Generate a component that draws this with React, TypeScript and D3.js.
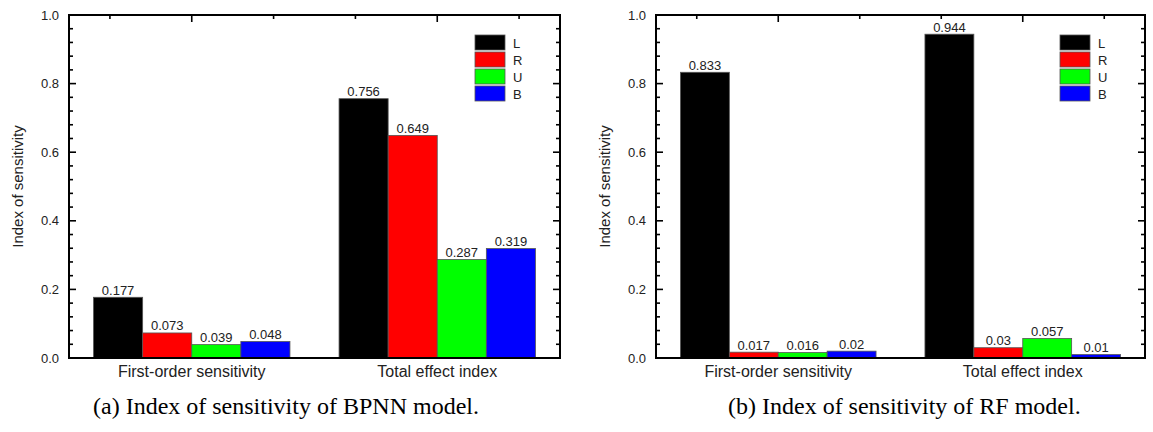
import React from "react";
import * as d3 from "d3";

const categories = ["First-order sensitivity", "Total effect index"];
const seriesNames = ["L", "R", "U", "B"];
const seriesColors = ["#000000", "#ff0000", "#00ff00", "#0000ff"];
const bpnnFirst = [0.177, 0.073, 0.039, 0.048];
const bpnnTotal = [0.756, 0.649, 0.287, 0.319];
const rfFirst = [0.833, 0.017, 0.016, 0.02];
const rfTotal = [0.944, 0.03, 0.057, 0.01];
const bpnnLabels = [["0.177", "0.073", "0.039", "0.048"], ["0.756", "0.649", "0.287", "0.319"]];
const rfLabels = [["0.833", "0.017", "0.016", "0.02"], ["0.944", "0.03", "0.057", "0.01"]];
const yTicks = [0, 0.2, 0.4, 0.6, 0.8, 1.0];
const captions = ["(a) Index of sensitivity of BPNN model.", "(b) Index of sensitivity of RF model."];

const SANS = "'Liberation Sans', Arial, sans-serif";
const SERIF = "'Liberation Serif', 'Times New Roman', serif";

type PanelProps = {
  x0: number;
  x1: number;
  data: number[][];
  labels: string[][];
  legendX: number;
  caption: string;
  captionX: number;
};

function Panel({ x0, x1, data, labels, legendX, caption, captionX }: PanelProps) {
  const top = 15;
  const bottom = 358;
  const x = d3.scaleLinear().domain([0.5, 2.5]).range([x0, x1]);
  const y = d3.scaleLinear().domain([0, 1]).range([bottom, top]);
  const minorY = d3.range(0, 1.0001, 0.04);
  const topTicks = [2 / 3, 1, 4 / 3, 5 / 3, 2, 7 / 3];
  const groupW = 0.8;
  const barW = groupW / seriesNames.length;
  const text = "#222";
  return (
    <g>
      {data.map((vals, ci) =>
        vals.map((v, si) => {
          const left = x(ci + 1 - groupW / 2 + barW * si);
          const right = x(ci + 1 - groupW / 2 + barW * (si + 1));
          return (
            <g key={`${ci}-${si}`}>
              <rect
                x={left}
                y={y(v)}
                width={right - left}
                height={y(0) - y(v)}
                fill={seriesColors[si]}
                stroke="#555"
                strokeWidth={0.8}
              />
              <text
                x={(left + right) / 2}
                y={y(v) - 2.5}
                textAnchor="middle"
                fontFamily={SANS}
                fontSize={13}
                fill={text}
              >
                {labels[ci][si]}
              </text>
            </g>
          );
        })
      )}
      {minorY.map((t, i) => {
        const major = i % 5 === 0;
        const len = major ? 7 : 4;
        const yy = y(t);
        return (
          <g key={`t${i}`}>
            <line x1={x0} x2={x0 + len} y1={yy} y2={yy} stroke="#000" strokeWidth={1.6} />
            <line x1={x1} x2={x1 - len} y1={yy} y2={yy} stroke="#000" strokeWidth={1.6} />
          </g>
        );
      })}
      {topTicks.map((t, i) => {
        const major = Math.abs(t - Math.round(t)) < 1e-6;
        return (
          <line
            key={`tt${i}`}
            x1={x(t)}
            x2={x(t)}
            y1={top}
            y2={top + (major ? 7 : 4)}
            stroke="#000"
            strokeWidth={1.6}
          />
        );
      })}
      <rect x={x0} y={top} width={x1 - x0} height={bottom - top} fill="none" stroke="#000" strokeWidth={2} />
      {yTicks.map((t) => (
        <text
          key={`yl${t}`}
          x={x0 - 10}
          y={y(t) + 4.5}
          textAnchor="end"
          fontFamily={SANS}
          fontSize={13}
          fill={text}
        >
          {t.toFixed(1)}
        </text>
      ))}
      {categories.map((c, i) => (
        <text
          key={c}
          x={x(i + 1)}
          y={bottom + 19}
          textAnchor="middle"
          fontFamily={SANS}
          fontSize={16}
          fill={text}
        >
          {c}
        </text>
      ))}
      <text
        transform={`translate(${x0 - 46},${(top + bottom) / 2}) rotate(-90)`}
        textAnchor="middle"
        fontFamily={SANS}
        fontSize={15}
        fill={text}
      >
        Index of sensitivity
      </text>
      {seriesNames.map((s, i) => (
        <g key={s}>
          <rect
            x={legendX}
            y={35 + i * 17}
            width={30}
            height={15}
            fill={seriesColors[i]}
            stroke="#555"
            strokeWidth={0.8}
          />
          <text x={legendX + 38} y={35 + i * 17 + 12.5} fontFamily={SANS} fontSize={13} fill={text}>
            {s}
          </text>
        </g>
      ))}
      <text x={captionX} y={414} fontFamily={SERIF} fontSize={24} fill="#000">
        {caption}
      </text>
    </g>
  );
}

export default function App() {
  return (
    <div style={{ position: "absolute", left: 0, top: 0 }}>
      <svg width={1153} height={432} style={{ display: "block", background: "#fff" }}>
        <Panel
          x0={69}
          x1={560}
          data={[bpnnFirst, bpnnTotal]}
          labels={bpnnLabels}
          legendX={475}
          caption={captions[0]}
          captionX={93}
        />
        <Panel
          x0={656}
          x1={1145}
          data={[rfFirst, rfTotal]}
          labels={rfLabels}
          legendX={1060}
          caption={captions[1]}
          captionX={728}
        />
      </svg>
    </div>
  );
}
